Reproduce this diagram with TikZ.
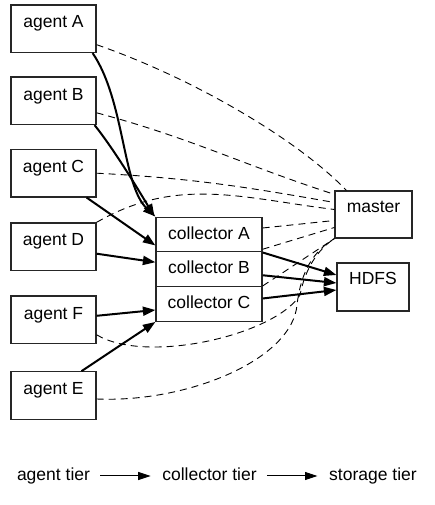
\documentclass[tikz,border=0pt]{standalone}
\usepackage{fontspec}
\setmainfont{Liberation Sans}
\usetikzlibrary{arrows.meta}

\begin{document}
\begin{tikzpicture}[x=1bp, y=1bp, font=\fontsize{17.5bp}{21bp}\selectfont,
  agentStyle/.style={rectangle, draw=black!85, line width=1.2bp, inner sep=0pt, minimum width=85bp, text height=23bp, text depth=24.5bp},
  collStyle/.style={rectangle, draw=black!85, line width=1.2bp, inner sep=0pt, minimum width=106bp, text height=22bp, text depth=12.75bp},
  hubStyle/.style={rectangle, draw=black!85, line width=1.2bp, inner sep=0pt, text height=22bp, text depth=25bp},
  tierStyle/.style={inner sep=0pt, text height=13bp, text depth=4bp},
  dataStyle/.style={line width=2bp, -{Triangle[length=12.5bp, width=9bp]}},
  ctrlStyle/.style={line width=0.9bp, dash pattern=on 7bp off 5bp},
  legendStyle/.style={line width=1bp, -{Triangle[length=12.5bp, width=8bp]}, shorten <=10bp, shorten >=11.5bp}]
  \useasboundingbox (0, 0) rectangle (435, 505);

  \node[agentStyle] (agent_A) at (53.5, 476.3) {agent A};
  \node[agentStyle] (agent_B) at (53.5, 404.2) {agent B};
  \node[agentStyle] (agent_C) at (53.5, 331.8) {agent C};
  \node[agentStyle] (agent_D) at (53.5, 258.3) {agent D};
  \node[agentStyle] (agent_F) at (53.5, 185.2) {agent F};
  \node[agentStyle] (agent_E) at (53.5, 109.5) {agent E};

  \node[collStyle] (coll_A) at (209, 270.5)  {collector A};
  \node[collStyle] (coll_B) at (209, 235.75) {collector B};
  \node[collStyle] (coll_C) at (209, 201)    {collector C};

  \node[hubStyle, minimum width=77bp] (master) at (373.5, 290.5) {master};
  \node[hubStyle, minimum width=72bp, text depth=26bp] (hdfs) at (373, 218) {HDFS};

  \draw[ctrlStyle] ([yshift=-16bp]agent_A.east) .. controls +(95,-33) and +(-50,52) .. ([xshift=12bp]master.north west);
  \draw[ctrlStyle] ([yshift=-12bp]agent_B.east) to[out=-15, in=162] ([yshift=-4bp]master.north west);
  \draw[ctrlStyle] (agent_C.east) to[out=-3, in=170] ([yshift=12bp]master.west);
  \draw[ctrlStyle] (agent_D.north east) to[out=30, in=173] ([yshift=5bp]master.west);
  \draw[ctrlStyle] ([yshift=6.5bp]coll_A.east) -- ([yshift=-6bp]master.west);
  \draw[ctrlStyle] ([yshift=2bp]coll_B.north east) -- ([yshift=-13bp]master.west);
  \draw[ctrlStyle] (coll_C.north east) -- (master.south west);
  \draw[ctrlStyle] ([yshift=-15bp]agent_F.east) .. controls +(50,-30) and +(-25,-40) .. (300, 210)
    .. controls +(5,25) and +(-18,-12) .. (master.south west);
  \draw[ctrlStyle] ([yshift=-3.5bp]agent_E.east) .. controls +(90,-4) and +(-5,-55) .. (297, 200)
    .. controls +(4,35) and +(-20,-12) .. (master.south west);

  \draw[dataStyle] ([xshift=-4bp]agent_A.south east) .. controls +(32,-47) and +(-33,31) .. (coll_A.north west);
  \draw[dataStyle] ([xshift=-2bp]agent_B.south east) .. controls +(20,-25) and +(-15,25) .. ([xshift=-1bp]coll_A.north west);
  \draw[dataStyle] ([xshift=-10bp]agent_C.south east) -- ([yshift=7bp]coll_A.south west);
  \draw[dataStyle] ([yshift=-7bp]agent_D.east) -- ([yshift=7bp]coll_B.west);
  \draw[dataStyle] ([yshift=4bp]agent_F.east) -- ([yshift=-6bp]coll_C.west);
  \draw[dataStyle] ([xshift=28bp]agent_E.north) -- (coll_C.south west);
  \draw[dataStyle] (coll_A.south east) -- ([yshift=12bp]hdfs.west);
  \draw[dataStyle] ([yshift=-6bp]coll_B.east) -- ([yshift=4bp]hdfs.west);
  \draw[dataStyle] ([yshift=5.5bp]coll_C.east) -- ([yshift=-3bp]hdfs.west);

  \node[tierStyle] (tier_agent) at (53.5, 29)  {agent tier};
  \node[tierStyle] (tier_coll)  at (209.5, 29) {collector tier};
  \node[tierStyle] (tier_store) at (373, 29)   {storage tier};
  \draw[legendStyle] (tier_agent) -- (tier_coll);
  \draw[legendStyle] (tier_coll) -- (tier_store);
\end{tikzpicture}
\end{document}
